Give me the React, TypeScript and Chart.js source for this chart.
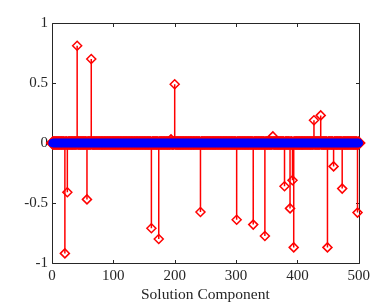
import React, { useEffect, useRef } from "react";
import { Chart, registerables } from "chart.js";

Chart.register(...registerables);

// ---- data ----
const componentCount = 500;
const spikeIndex = [21, 25, 41, 57, 64, 162, 174, 194, 200, 242, 301, 328, 347, 360, 379, 388, 392, 394, 427, 438, 449, 459, 473, 498];
const spikeValue = [-0.92, -0.41, 0.81, -0.47, 0.7, -0.71, -0.8, 0.03, 0.49, -0.575, -0.64, -0.68, -0.775, 0.055, -0.36, -0.545, -0.31, -0.87, 0.19, 0.23, -0.87, -0.195, -0.38, -0.58];
const recoveredLevel = 0; // every recovered component sits at 0
const xTicks = [0, 100, 200, 300, 400, 500];
const yTicks = [-1, -0.5, 0, 0.5, 1];
const xTitle = "Solution Component";

const FONT = "'Liberation Serif', 'Times New Roman', serif";
const AXIS_COLOR = "#262626";

const axesBox = {
  id: "axesBox",
  beforeDatasetsDraw(chart: any) {
    const { ctx, chartArea, scales } = chart;
    const { left, right, top, bottom } = chartArea;
    const L = Math.round(left) + 0.5;
    const R = Math.round(right) + 0.5;
    const T = Math.round(top) + 0.5;
    const B = Math.round(bottom) + 0.5;
    const tl = 3.5;
    ctx.save();
    ctx.strokeStyle = AXIS_COLOR;
    ctx.lineWidth = 1;
    ctx.beginPath();
    ctx.rect(L, T, R - L, B - T);
    for (const v of xTicks) {
      const px = Math.round(scales.x.getPixelForValue(v)) + 0.5;
      ctx.moveTo(px, B);
      ctx.lineTo(px, B - tl);
      ctx.moveTo(px, T);
      ctx.lineTo(px, T + tl);
    }
    for (const v of yTicks) {
      const py = Math.round(scales.y.getPixelForValue(v)) + 0.5;
      ctx.moveTo(L, py);
      ctx.lineTo(L + tl, py);
      ctx.moveTo(R, py);
      ctx.lineTo(R - tl, py);
    }
    ctx.stroke();
    ctx.restore();
  },
};

export default function App() {
  const ref = useRef<HTMLCanvasElement | null>(null);

  useEffect(() => {
    if (!ref.current) return;
    const indices = Array.from({ length: componentCount }, (_, i) => i + 1);
    const original = indices.map((i) => {
      const k = spikeIndex.indexOf(i);
      return { x: i, y: k >= 0 ? spikeValue[k] : 0 };
    });
    const recovered = indices.map((i) => ({ x: i, y: recoveredLevel }));
    const stems: any[] = [];
    spikeIndex.forEach((ix, k) => {
      stems.push({ x: ix, y: 0 }, { x: ix, y: spikeValue[k] }, { x: ix, y: null });
    });

    const chart = new Chart(ref.current, {
      type: "scatter",
      data: {
        datasets: [
          {
            type: "scatter",
            data: recovered,
            order: 1,
            pointStyle: "circle",
            pointRadius: 3.5,
            pointBorderWidth: 1.5,
            pointBackgroundColor: "#0000ff",
            pointBorderColor: "#0000ff",
            clip: false,
          } as any,
          {
            type: "scatter",
            data: original,
            order: 2,
            pointStyle: "rectRot",
            pointRadius: (c: any) => (c.raw && c.raw.y === 0 ? 6 : 4.5),
            pointBorderWidth: 1.5,
            pointBackgroundColor: "rgba(0,0,0,0)",
            pointBorderColor: "#ff0000",
            clip: false,
          } as any,
          {
            type: "line",
            data: stems,
            order: 3,
            showLine: true,
            spanGaps: false,
            borderColor: "#ff0000",
            borderWidth: 1.5,
            pointRadius: 0,
            fill: false,
            clip: false,
          } as any,
        ],
      },
      options: {
        animation: false,
        responsive: false,
        devicePixelRatio: 1,
        layout: { padding: { top: 23, right: 11, left: 0, bottom: 0 } },
        plugins: { legend: { display: false }, tooltip: { enabled: false } },
        scales: {
          x: {
            type: "linear",
            min: 0,
            max: 500,
            afterBuildTicks: (s: any) => {
              s.ticks = xTicks.map((v) => ({ value: v }));
            },
            afterFit: (s: any) => {
              s.height = 39;
            },
            grid: { display: false, drawTicks: false },
            border: { display: false },
            ticks: {
              padding: 4,
              color: AXIS_COLOR,
              font: { family: FONT, size: 15 },
              maxRotation: 0,
              callback: (v: any) => String(v),
            },
            title: {
              display: true,
              text: xTitle,
              color: AXIS_COLOR,
              font: { family: FONT, size: 15.5 },
              padding: { top: 0, bottom: -2 },
            },
          },
          y: {
            type: "linear",
            min: -1,
            max: 1,
            afterBuildTicks: (s: any) => {
              s.ticks = yTicks.map((v) => ({ value: v }));
            },
            afterFit: (s: any) => {
              s.width = 52;
            },
            grid: { display: false, drawTicks: false },
            border: { display: false },
            ticks: {
              padding: 4,
              color: AXIS_COLOR,
              font: { family: FONT, size: 15 },
              callback: (v: any) => String(v),
            },
          },
        },
      },
      plugins: [axesBox],
    });
    return () => chart.destroy();
  }, []);

  return (
    <div style={{ position: "fixed", left: 0, top: 0, width: 374, height: 302, background: "#fff" }}>
      <canvas ref={ref} width={374} height={302} style={{ width: 374, height: 302, display: "block" }} />
    </div>
  );
}
